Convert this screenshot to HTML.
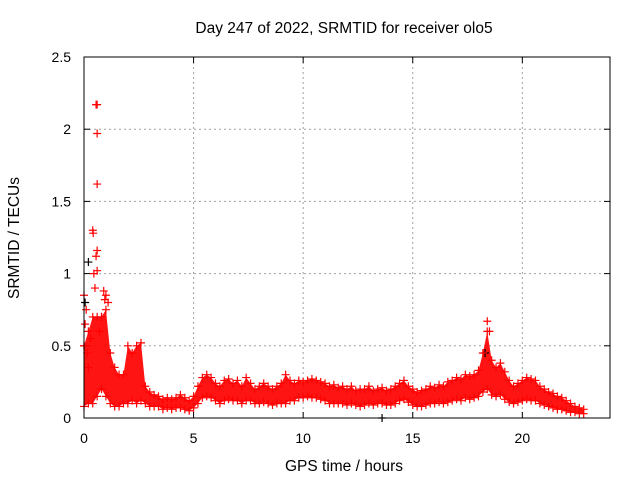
<!DOCTYPE html>
<html><head><meta charset="utf-8"><style>
body{margin:0;background:#fff;}
svg{display:block;font-family:"Liberation Sans",sans-serif;}
</style></head><body>
<svg id="chart" width="640" height="480">
<text x="344" y="33" font-size="15.5" text-anchor="middle">Day 247 of 2022, SRMTID for receiver olo5</text>
<text x="344" y="471" font-size="15.5" text-anchor="middle">GPS time / hours</text>
<text transform="translate(19,238) rotate(-90)" font-size="15.5" text-anchor="middle">SRMTID / TECUs</text>
<g id="grid"></g><g id="ticks"></g><g id="marks"></g>
<rect x="84" y="57" width="526" height="361" fill="none" stroke="#000" stroke-width="1"/>
</svg>
<script>
const xTicks=[0,5,10,15,20];
const yTicks=[0,0.5,1,1.5,2,2.5];
const yTickLabels=["0","0.5","1","1.5","2","2.5"];
const startHour=0, stepHour=0.2;
const upper=[0.5,0.6,0.7,0.7,0.7,0.75,0.45,0.35,0.3,0.3,0.5,0.45,0.5,0.52,0.22,0.18,0.16,0.15,0.13,0.14,0.13,0.14,0.16,0.14,0.12,0.15,0.22,0.28,0.3,0.28,0.24,0.22,0.26,0.27,0.24,0.26,0.22,0.28,0.24,0.2,0.22,0.24,0.22,0.2,0.22,0.24,0.3,0.26,0.24,0.26,0.25,0.26,0.27,0.26,0.25,0.24,0.22,0.23,0.21,0.22,0.2,0.22,0.19,0.2,0.2,0.22,0.19,0.2,0.21,0.19,0.2,0.22,0.24,0.26,0.22,0.2,0.18,0.19,0.2,0.22,0.21,0.23,0.22,0.25,0.26,0.28,0.27,0.3,0.29,0.3,0.33,0.45,0.6,0.4,0.35,0.38,0.32,0.26,0.22,0.24,0.26,0.28,0.27,0.26,0.22,0.2,0.18,0.17,0.15,0.14,0.12,0.1,0.08,0.07,0.06];
const lower=[0.08,0.1,0.1,0.15,0.2,0.15,0.1,0.08,0.08,0.1,0.1,0.12,0.1,0.12,0.1,0.08,0.08,0.08,0.06,0.07,0.06,0.07,0.07,0.06,0.05,0.07,0.1,0.14,0.15,0.14,0.12,0.1,0.12,0.13,0.12,0.12,0.1,0.12,0.12,0.1,0.1,0.11,0.1,0.09,0.1,0.1,0.1,0.12,0.12,0.14,0.14,0.15,0.14,0.14,0.13,0.12,0.1,0.1,0.1,0.1,0.09,0.1,0.09,0.08,0.09,0.1,0.09,0.1,0.1,0.09,0.09,0.1,0.12,0.13,0.11,0.09,0.08,0.08,0.09,0.1,0.1,0.11,0.1,0.11,0.12,0.13,0.12,0.14,0.13,0.14,0.15,0.18,0.2,0.16,0.15,0.16,0.13,0.11,0.1,0.11,0.12,0.13,0.12,0.12,0.1,0.09,0.08,0.07,0.06,0.06,0.05,0.04,0.04,0.03,0.03];
const spikeHours=[0.55,0.6,0.6,0.6,0.4,0.42,0.6,0.55,0.45,0.6,0.0,0.1,0.05,0.9,0.95,0.7,18.4,18.5,0.0,0.2,0.3,0.8,1.0,1.1,0.15,0.5];
const spikeValues=[2.17,2.17,1.97,1.62,1.3,1.28,1.16,1.12,1.0,1.02,0.85,0.75,0.65,0.88,0.82,0.6,0.67,0.6,0.5,0.35,0.55,0.7,0.85,0.8,0.45,0.9];
const blackHours=[0.2,13.6,18.3,0.05];
const blackValues=[1.08,0.0,0.45,0.8];
const NS="http://www.w3.org/2000/svg";
const X=h=>84+h*(526/24), Y=v=>418-v*(361/2.5);
function mk(tag,attrs,parent){const e=document.createElementNS(NS,tag);for(const k in attrs)e.setAttribute(k,attrs[k]);parent.appendChild(e);return e;}
const grid=document.getElementById('grid'),ticks=document.getElementById('ticks'),marks=document.getElementById('marks');
xTicks.forEach(t=>{
 if(t>0){const g=mk('line',{x1:X(t),x2:X(t),y1:57,y2:418,stroke:'#a0a0a0','stroke-dasharray':'2,3'},grid);
 
 }
 mk('line',{x1:X(t),x2:X(t),y1:418,y2:412,stroke:'#000'},ticks);
 mk('line',{x1:X(t),x2:X(t),y1:57,y2:63,stroke:'#000'},ticks);
 const l=mk('text',{x:X(t),y:443,'font-size':14,'text-anchor':'middle'},ticks);l.textContent=t;
 
 
});
yTicks.forEach((t,i)=>{
 if(t>0&&t<2.5){const g=mk('line',{x1:84,x2:610,y1:Y(t),y2:Y(t),stroke:'#a0a0a0','stroke-dasharray':'2,3'},grid);
 
 }
 mk('line',{x1:84,x2:90,y1:Y(t),y2:Y(t),stroke:'#000'},ticks);
 mk('line',{x1:610,x2:604,y1:Y(t),y2:Y(t),stroke:'#000'},ticks);
 const l=mk('text',{x:71,y:Y(t)+5,'font-size':14,'text-anchor':'end'},ticks);l.textContent=yTickLabels[i];
 
 
});
let pts=[];
upper.forEach((v,i)=>pts.push(X(startHour+i*stepHour)+','+Y(v)));
for(let i=lower.length-1;i>=0;i--)pts.push(X(startHour+i*stepHour)+','+Y(lower[i]));
const band=mk('polygon',{points:pts.join(' '),fill:'#ff0000','fill-opacity':0.92},marks);


function plus(h,v,c,name){const x=X(h),y=Y(v);
 const p=mk('path',{d:`M${x-4},${y}h8M${x},${y-4}v8`,stroke:c,'stroke-width':1.2,fill:'none'},marks);
 
 }
blackValues.forEach((v,i)=>plus(blackHours[i],v,'#000','black-point'));
upper.forEach((v,i)=>plus(startHour+i*stepHour,v,'#ff0000','srmtid-point'));
lower.forEach((v,i)=>plus(startHour+i*stepHour,v,'#ff0000','srmtid-point'));
spikeValues.forEach((v,i)=>plus(spikeHours[i],v,'#ff0000','srmtid-spike'));
</script>
</body></html>
